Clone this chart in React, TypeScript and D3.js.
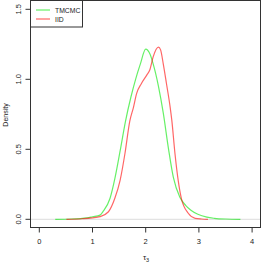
import React from "react";
import * as d3 from "d3";

const xTicks = [0, 1, 2, 3, 4];
const yTicks = [0, 0.5, 1.0, 1.5];
const yTickLabels = ["0.0", "0.5", "1.0", "1.5"];
const seriesNames = ["TMCMC", "IID"];
const seriesColors = ["rgba(0,230,0,0.6)", "rgba(255,0,0,0.6)"];

const tmcmcX = [0.30, 0.6, 0.9, 1.0, 1.14, 1.2, 1.33, 1.42, 1.52, 1.62, 1.72, 1.81, 1.9, 2.0, 2.08, 2.14, 2.24, 2.33, 2.43, 2.52, 2.64, 2.75, 2.85, 2.98, 3.15, 3.29, 3.5, 3.78];
const tmcmcY = [0.0, 0.002, 0.01, 0.018, 0.03, 0.056, 0.15, 0.29, 0.49, 0.70, 0.87, 1.0, 1.11, 1.215, 1.18, 1.11, 0.95, 0.76, 0.50, 0.30, 0.16, 0.10, 0.065, 0.036, 0.015, 0.007, 0.002, 0.0];
const iidX = [0.51, 0.8, 1.0, 1.14, 1.30, 1.42, 1.52, 1.61, 1.70, 1.77, 1.83, 1.92, 2.02, 2.08, 2.14, 2.24, 2.28, 2.33, 2.39, 2.46, 2.49, 2.55, 2.61, 2.67, 2.80, 2.93, 3.05, 3.17];
const iidY = [0.0, 0.004, 0.01, 0.019, 0.054, 0.15, 0.28, 0.47, 0.70, 0.80, 0.90, 0.97, 1.03, 1.07, 1.16, 1.23, 1.21, 1.11, 0.97, 0.80, 0.71, 0.47, 0.28, 0.15, 0.043, 0.007, 0.002, 0.0];

export default function App() {
  const W = 262, H = 262;
  const left = 30.5, right = 260.5, top = 0.5, bottom = 227.5;
  const x = d3.scaleLinear().domain([0, 4]).range([39.3, 252.1]);
  const y = d3.scaleLinear().domain([0, 1.5]).range([219.3, 9.3]);
  const line = d3.line<[number, number]>().x(d => x(d[0])).y(d => y(d[1])).curve(d3.curveMonotoneX);
  const series = [
    tmcmcX.map((v, i) => [v, tmcmcY[i]] as [number, number]),
    iidX.map((v, i) => [v, iidY[i]] as [number, number]),
  ];
  const font = "'Liberation Sans', Arial, sans-serif";
  return (
    <svg width={W} height={H} style={{ position: "fixed", left: 0, top: 0, background: "#fff" }} fontFamily={font}>
      <line x1={left} x2={right} y1={y(0)} y2={y(0)} stroke="#ddd" strokeWidth={1} />
      {series.map((s, i) => (
        <path key={i} d={line(s) || ""} fill="none" stroke={seriesColors[i]} strokeWidth={1.2} />
      ))}
      <rect x={left} y={top} width={right - left} height={bottom - top} fill="none" stroke="#333" strokeWidth={1} />
      {yTicks.map((t, i) => (
        <g key={t}>
          <line x1={left} x2={left - 5} y1={y(t)} y2={y(t)} stroke="#333" />
          <text transform={`translate(20.5,${y(t)}) rotate(-90)`} textAnchor="middle" fontSize={7.5} fill="#222">{yTickLabels[i]}</text>
        </g>
      ))}
      {xTicks.map(t => (
        <g key={t}>
          <line x1={x(t)} x2={x(t)} y1={bottom} y2={bottom + 5} stroke="#333" />
          <text x={x(t)} y={244} textAnchor="middle" fontSize={7.5} fill="#222">{t}</text>
        </g>
      ))}
      <text transform={`translate(8,115) rotate(-90)`} textAnchor="middle" fontSize={7} fill="#222">Density</text>
      <text x={146} y={260} textAnchor="middle" fontSize={8} fill="#222">τ<tspan fontSize={5.5} dy={1.5}>3</tspan></text>
      <rect x={left} y={top} width={52} height={26.5} fill="#fff" stroke="#333" strokeWidth={1} />
      {seriesNames.map((n, i) => (
        <g key={n}>
          <line x1={36} x2={50} y1={10 + i * 9} y2={10 + i * 9} stroke={seriesColors[i]} strokeWidth={1.2} />
          <text x={55} y={12.5 + i * 9} fontSize={6.8} fill="#222">{n}</text>
        </g>
      ))}
    </svg>
  );
}
